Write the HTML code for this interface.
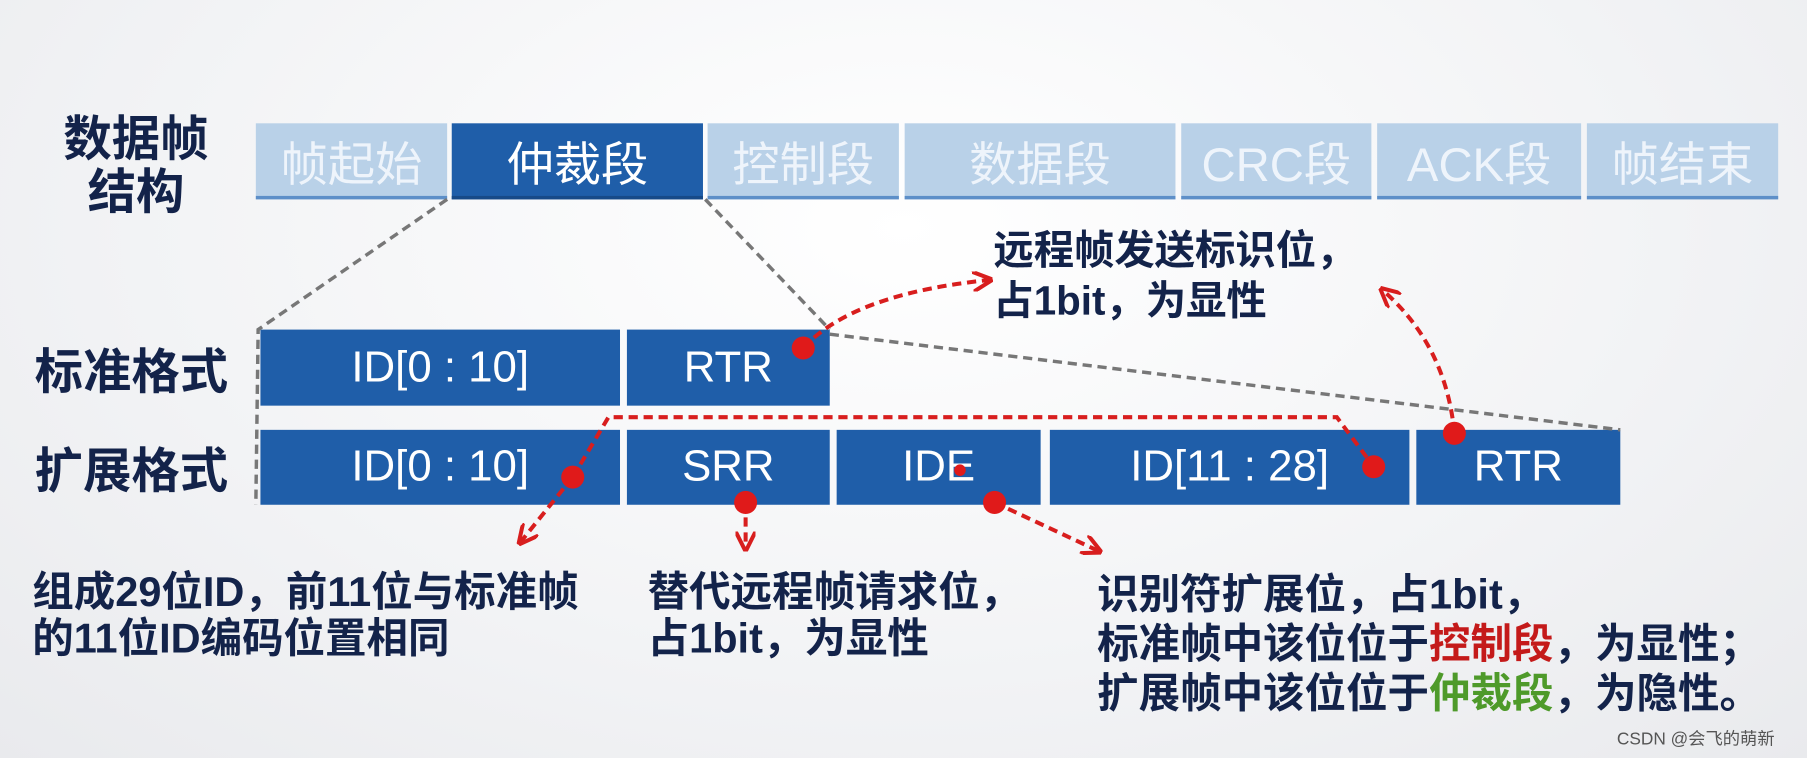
<!DOCTYPE html>
<html><head><meta charset="utf-8"><style>
html,body{margin:0;padding:0;width:1807px;height:758px;overflow:hidden;background:#f3f4f6}
#w{position:absolute;left:0;top:0;width:1568px;height:658px;transform:scale(1.15242);transform-origin:0 0;background:radial-gradient(ellipse at 50% 30%,#ffffff 0%,#f2f3f5 60%,#e9eaed 100%);font-family:"Liberation Sans","Noto Sans CJK SC",sans-serif}
.c{position:absolute;display:flex;align-items:center;justify-content:center;color:#fff;font-size:38px}
.tp{font-size:41px}
.l{background:#b9d1e8;color:#eef4fb;border-bottom:3px solid #5d8fc8;box-sizing:border-box}
.d{background:#1f5ea9}
.t{position:absolute;font-weight:bold;color:#13234a;font-size:36px;line-height:40px;white-space:nowrap}
.h{position:absolute;font-weight:bold;color:#13234a;font-size:42px;line-height:46px;white-space:nowrap}
</style></head><body><div id="w">
<div class="h" style="left:50px;top:98px;width:136px;text-align:center">数据帧<br>结构</div>
<div class="c l tp" style="left:222px;top:107px;width:166px;height:66px">帧起始</div>
<div class="c d tp" style="left:392px;top:107px;width:218px;height:66px;border-bottom:3px solid #174a88;box-sizing:border-box">仲裁段</div>
<div class="c l tp" style="left:614px;top:107px;width:166px;height:66px">控制段</div>
<div class="c l tp" style="left:785px;top:107px;width:235px;height:66px">数据段</div>
<div class="c l tp" style="left:1025px;top:107px;width:165px;height:66px">CRC段</div>
<div class="c l tp" style="left:1195px;top:107px;width:177px;height:66px">ACK段</div>
<div class="c l tp" style="left:1377px;top:107px;width:166px;height:66px">帧结束</div>
<div class="h" style="left:30px;top:300px">标准格式</div>
<div class="h" style="left:30px;top:386px">扩展格式</div>
<div class="c d" style="left:226px;top:286px;width:312px;height:66px">ID[0 : 10]</div>
<div class="c d" style="left:544px;top:286px;width:176px;height:66px">RTR</div>
<div class="c d" style="left:226px;top:373px;width:312px;height:65px">ID[0 : 10]</div>
<div class="c d" style="left:544px;top:373px;width:176px;height:65px">SRR</div>
<div class="c d" style="left:726px;top:373px;width:177px;height:65px">IDE</div>
<div class="c d" style="left:911px;top:373px;width:312px;height:65px">ID[11 : 28]</div>
<div class="c d" style="left:1229px;top:373px;width:177px;height:65px">RTR</div>
<svg style="position:absolute;left:0;top:0" width="1568" height="658">
<g stroke="#777" stroke-width="3" stroke-dasharray="8,5" fill="none">
<path d="M388 173 L224 286 L222 438"/><path d="M612 173 L720 286"/><path d="M720 290 L1406 373"/>
</g>
<defs><marker id="a" viewBox="0 0 10 10" refX="8" refY="5" markerWidth="5" markerHeight="5" orient="auto"><path d="M0 0 L10 5 L0 10" fill="none" stroke="#d81e1e" stroke-width="2"/></marker></defs>
<g stroke="#d81e1e" stroke-width="3.5" stroke-dasharray="8,5" fill="none" marker-end="url(#a)">
<path d="M697 302 Q740 255 858 243"/>
<path d="M1262 376 Q1255 300 1200 252"/>
<path d="M497 414 L452 470"/>
<path d="M647 436 L647 475"/>
<path d="M863 436 L953 478"/>
</g>
<path d="M497 414 L528 362 L1160 362 L1192 405" stroke="#d81e1e" stroke-width="3.5" stroke-dasharray="8,5" fill="none"/>
<g fill="#e01a1a"><circle cx="697" cy="302" r="10"/><circle cx="497" cy="414" r="10"/><circle cx="647" cy="436" r="10"/><circle cx="863" cy="436" r="10"/><circle cx="1192" cy="405" r="10"/><circle cx="1262" cy="376" r="10"/><circle cx="833" cy="408" r="5"/></g>
</svg>
<div class="t" style="left:862px;top:196px;font-size:35px;line-height:44px">远程帧发送标识位，<br>占1bit，为显性</div>
<div class="t" style="left:28px;top:494px">组成29位ID，前11位与标准帧<br>的11位ID编码位置相同</div>
<div class="t" style="left:562px;top:494px">替代远程帧请求位，<br>占1bit，为显性</div>
<div class="t" style="left:952px;top:494px;line-height:43px">识别符扩展位，占1bit，<br>标准帧中该位位于<span style="color:#c41a1a">控制段</span>，为显性；<br>扩展帧中该位位于<span style="color:#4e9a2a">仲裁段</span>，为隐性。</div>
<div style="position:absolute;left:1403px;top:630px;font-size:15px;color:#555">CSDN @会飞的萌新</div>
</div></body></html>
